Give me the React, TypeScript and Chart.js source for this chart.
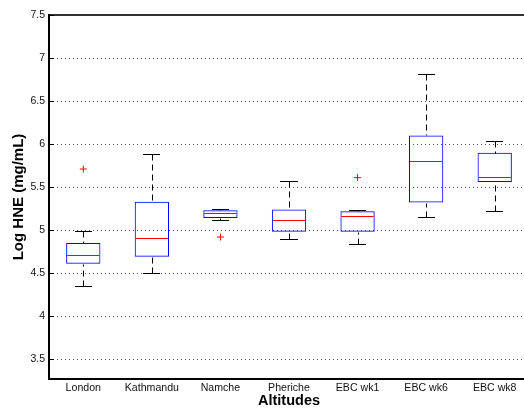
import React, { useEffect, useRef } from 'react';
import { Chart, registerables } from 'chart.js';

Chart.register(...registerables);

// ---- Data ----
const categories = ['London', 'Kathmandu', 'Namche', 'Pheriche', 'EBC wk1', 'EBC wk6', 'EBC wk8'];
const whiskerLow = [4.35, 4.5, 5.12, 4.9, 4.84, 5.15, 5.22];
const q1 = [4.61, 4.69, 5.14, 4.98, 4.98, 5.32, 5.56];
const median = [4.71, 4.91, 5.2, 5.12, 5.16, 5.8, 5.62];
const q3 = [4.85, 5.33, 5.23, 5.24, 5.22, 6.1, 5.9];
const whiskerHigh = [4.99, 5.89, 5.25, 5.57, 5.23, 6.82, 6.04];
const outlierCats = ['London', 'Namche', 'EBC wk1'];
const outlierVals = [5.71, 4.92, 5.61];
const yTicks = [3.5, 4, 4.5, 5, 5.5, 6, 6.5, 7, 7.5];
const yMin = 3.27;
const yMax = 7.5;

const FONT = "'Liberation Sans', Arial, Helvetica, sans-serif";

const boxPlugin = {
  id: 'boxExtras',
  afterDatasetsDraw(chart: any) {
    const ctx = chart.ctx as CanvasRenderingContext2D;
    const ys = chart.scales.y;
    const meta = chart.getDatasetMeta(0);
    const py = (v: number) => Math.round(ys.getPixelForValue(v)) + 0.5;
    const line = (x1: number, y1: number, x2: number, y2: number) => {
      ctx.beginPath();
      ctx.moveTo(x1, y1);
      ctx.lineTo(x2, y2);
      ctx.stroke();
    };
    ctx.save();
    categories.forEach((_, i) => {
      const el = meta.data[i];
      if (!el) return;
      const xc = Math.round(el.x) + 0.5;
      const half = el.width / 2;
      ctx.lineWidth = 1;
      ctx.strokeStyle = '#000';
      ctx.setLineDash([6, 4]);
      line(xc, py(whiskerHigh[i]), xc, py(q3[i]));
      line(xc, py(whiskerLow[i]), xc, py(q1[i]));
      ctx.setLineDash([]);
      const cap = half / 2;
      line(Math.round(el.x - cap), py(whiskerHigh[i]), Math.round(el.x + cap), py(whiskerHigh[i]));
      line(Math.round(el.x - cap), py(whiskerLow[i]), Math.round(el.x + cap), py(whiskerLow[i]));
      ctx.strokeStyle = '#ff0000';
      line(el.x - half + 1, py(median[i]), el.x + half - 1, py(median[i]));
    });
    ctx.restore();
  },
  afterDraw(chart: any) {
    const ctx = chart.ctx as CanvasRenderingContext2D;
    const { left, top, right, bottom } = chart.chartArea;
    const ys = chart.scales.y;
    ctx.save();
    ctx.fillStyle = '#333';
    ctx.fillRect(left - 1, top - 1, right - left + 2, 2);
    ctx.fillStyle = '#000';
    ctx.fillRect(left - 1, top - 1, 2, bottom - top + 2);
    ctx.fillRect(left - 1, bottom - 1, right - left + 2, 2);
    ctx.fillRect(right - 1, top - 1, 2, bottom - top + 2);
    ctx.strokeStyle = '#000';
    ctx.lineWidth = 1;
    yTicks.forEach((v) => {
      const y = Math.round(ys.getPixelForValue(v)) + 0.5;
      ctx.beginPath();
      ctx.moveTo(left + 1, y);
      ctx.lineTo(left + 5, y);
      ctx.stroke();
    });
    ctx.restore();
  },
};

export default function App() {
  const ref = useRef<HTMLCanvasElement | null>(null);

  useEffect(() => {
    if (!ref.current) return;
    const chart = new Chart(ref.current, {
      type: 'bar',
      data: {
        labels: categories,
        datasets: [
          {
            type: 'bar',
            data: categories.map((_, i) => [q1[i], q3[i]]) as any,
            backgroundColor: 'rgba(0,0,0,0)',
            borderColor: '#0000ff',
            borderWidth: 1,
            borderSkipped: false,
            barPercentage: 0.5,
            categoryPercentage: 1,
          } as any,
          {
            type: 'scatter',
            data: outlierCats.map((c, i) => ({ x: c, y: outlierVals[i] })) as any,
            pointStyle: 'cross',
            pointRadius: 3.5,
            borderColor: '#ff0000',
            backgroundColor: '#ff0000',
            borderWidth: 1,
            showLine: false,
          } as any,
        ],
      },
      options: {
        animation: false,
        responsive: false,
        devicePixelRatio: 1,
        layout: { padding: { top: 15, right: 21, left: 0, bottom: 0 } },
        plugins: {
          legend: { display: false },
          tooltip: { enabled: false },
        },
        scales: {
          x: {
            type: 'category',
            offset: true,
            grid: { display: false, drawTicks: false },
            border: { display: false },
            ticks: {
              color: '#111',
              padding: 3,
              maxRotation: 0,
              autoSkip: false,
              font: { family: FONT, size: 10.6 },
            },
            title: {
              display: true,
              text: 'Altitudes',
              color: '#000',
              padding: { top: 0, bottom: 0 },
              font: { family: FONT, size: 14.5, weight: 'bold' },
            },
            afterFit: (s: any) => {
              s.height = 31;
            },
          },
          y: {
            type: 'linear',
            min: yMin,
            max: yMax,
            bounds: 'data',
            grid: { display: true, color: '#555', lineWidth: 1, drawTicks: false },
            border: { display: false, dash: [1, 3] },
            ticks: {
              color: '#111',
              padding: 4,
              font: { family: FONT, size: 10.5 },
              callback: (v: any) => String(v),
            },
            afterBuildTicks: (s: any) => {
              s.ticks = yTicks.map((v) => ({ value: v }));
            },
            title: {
              display: true,
              text: 'Log HNE (mg/mL)',
              color: '#000',
              padding: { top: 9.5, bottom: 0 },
              font: { family: FONT, size: 15, weight: 'bold' },
            },
            afterFit: (s: any) => {
              s.width = 49;
            },
          },
        },
      } as any,
      plugins: [boxPlugin],
    });
    return () => chart.destroy();
  }, []);

  return (
    <div
      style={{
        position: 'fixed',
        left: 0,
        top: 0,
        width: 524,
        height: 410,
        overflow: 'hidden',
        background: '#fff',
      }}
    >
      <canvas ref={ref} width={550} height={410} style={{ display: 'block', width: 550, height: 410 }} />
    </div>
  );
}
